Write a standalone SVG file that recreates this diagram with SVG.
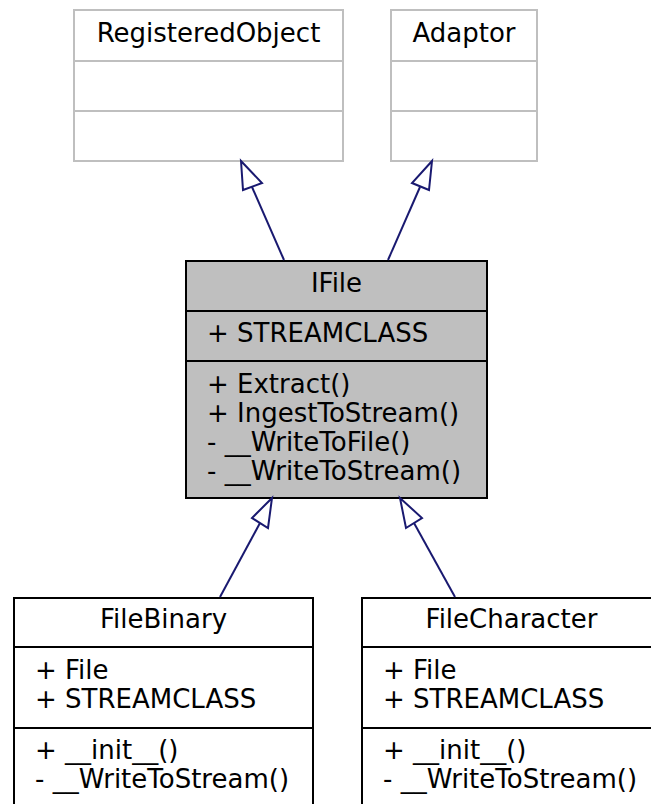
<svg xmlns="http://www.w3.org/2000/svg" width="651" height="804" viewBox="0 0 651 804">
<defs>
<style>
text{font-family:"DejaVu Sans",sans-serif;font-size:26px;fill:#000}
.c{text-anchor:middle}
.g{fill:#fff;stroke:#bfbfbf;stroke-width:2}
.gl{stroke:#bfbfbf;stroke-width:2}
.b{fill:#fff;stroke:#000;stroke-width:2}
.bl{stroke:#000;stroke-width:2}
.sel{fill:#bfbfbf;stroke:#000;stroke-width:2}
.e{fill:none;stroke:#191970;stroke-width:2}
.ah{fill:#fff;stroke:#191970;stroke-width:2}
</style>
</defs>
<rect width="651" height="804" fill="#fff"/>
<g id="RegisteredObject">
<rect class="g" x="74" y="10" width="269" height="151"/>
<line class="gl" x1="74" y1="61" x2="343" y2="61"/>
<line class="gl" x1="74" y1="111" x2="343" y2="111"/>
<text class="c" x="208.5" y="42">RegisteredObject</text>
</g>
<g id="Adaptor">
<rect class="g" x="391" y="10" width="146" height="151"/>
<line class="gl" x1="391" y1="61" x2="537" y2="61"/>
<line class="gl" x1="391" y1="111" x2="537" y2="111"/>
<text class="c" x="464" y="42">Adaptor</text>
</g>
<g id="IFile">
<rect class="sel" x="186" y="261" width="301" height="237"/>
<line class="bl" x1="186" y1="311" x2="487" y2="311"/>
<line class="bl" x1="186" y1="361" x2="487" y2="361"/>
<text class="c" x="336.5" y="292">IFile</text>
<text x="207" y="342">+ STREAMCLASS</text>
<text x="207" y="393">+ Extract()</text>
<text x="207" y="422">+ IngestToStream()</text>
<text x="207" y="451">- __WriteToFile()</text>
<text x="207" y="480">- __WriteToStream()</text>
</g>
<g id="FileBinary">
<rect class="b" x="14" y="598" width="299" height="220"/>
<line class="bl" x1="14" y1="647" x2="313" y2="647"/>
<line class="bl" x1="14" y1="728" x2="313" y2="728"/>
<text class="c" x="163.5" y="628">FileBinary</text>
<text x="35" y="679">+ File</text>
<text x="35" y="708">+ STREAMCLASS</text>
<text x="35" y="759">+ __init__()</text>
<text x="35" y="788">- __WriteToStream()</text>
</g>
<g id="FileCharacter">
<rect class="b" x="362" y="598" width="299" height="220"/>
<line class="bl" x1="362" y1="647" x2="661" y2="647"/>
<line class="bl" x1="362" y1="728" x2="661" y2="728"/>
<text class="c" x="511.5" y="628">FileCharacter</text>
<text x="383" y="679">+ File</text>
<text x="383" y="708">+ STREAMCLASS</text>
<text x="383" y="759">+ __init__()</text>
<text x="383" y="788">- __WriteToStream()</text>
</g>
<g id="connectors">
<line class="e" x1="284" y1="260" x2="252" y2="187"/>
<polygon class="ah" points="241,161 243,190 262,183"/>
<line class="e" x1="388" y1="260" x2="420" y2="187"/>
<polygon class="ah" points="432,161 412,183 429,190"/>
<line class="e" x1="220" y1="597" x2="260" y2="523"/>
<polygon class="ah" points="272,498 252,518 268,528"/>
<line class="e" x1="455" y1="597" x2="414" y2="523"/>
<polygon class="ah" points="400,498 406,528 422,518"/>
</g>
</svg>
